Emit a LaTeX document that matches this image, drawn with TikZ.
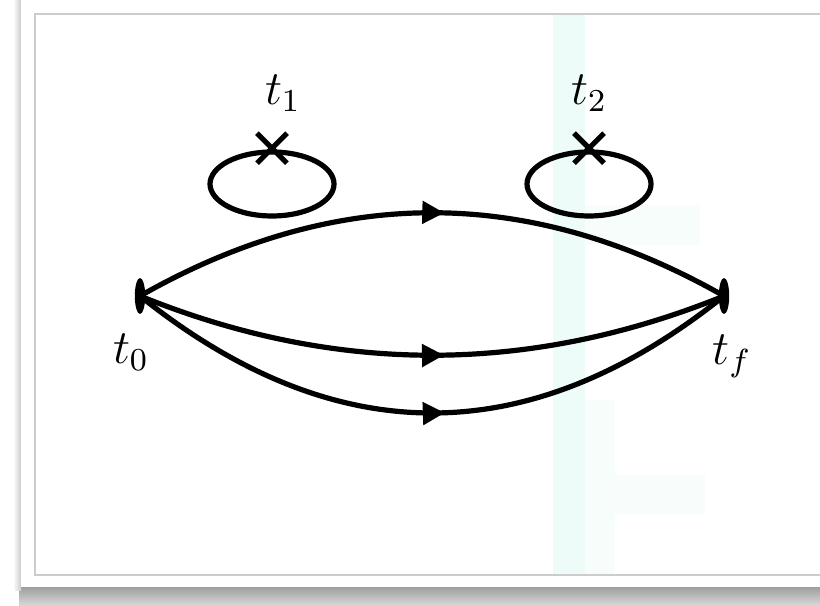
\documentclass[tikz,border=0pt]{standalone}
\usetikzlibrary{arrows.meta,shapes.geometric,shapes.misc,decorations.markings}

\definecolor{wmark}{RGB}{238,252,249}

\begin{document}
\begin{tikzpicture}[
  x=0.25pt, y=-0.25pt,
  path/.style={line width=1.3pt, postaction={decorate},
    decoration={markings, mark=at position 0.52 with {\arrow{Triangle[length=5.5pt,width=5.5pt]}}}},
  endpt/.style={ellipse, fill=black, inner sep=0pt, minimum width=2.6pt, minimum height=9pt},
  loopy/.style={ellipse, draw, line width=1.3pt, inner sep=0pt, minimum width=31pt, minimum height=16pt},
  xmark/.style={cross out, draw, line width=1.3pt, inner sep=0pt, minimum size=6.2pt},
  lbl/.style={font=\large},
]
\clip (0,0) rectangle (820,606);

% === PAGE + SHADOW ===
\fill[white] (0,0) rectangle (820,606);
\shade[top color=gray!75, bottom color=gray!30] (19,587) rectangle (820,606);
\shade[left color=white, right color=gray!40] (13,0) rectangle (21,590);
\fill[white] (21,0) rectangle (820,587);
\fill[wmark] (553,14) rectangle (585,575);
\fill[wmark, opacity=0.5] (585,205) rectangle (700,245);
\fill[wmark, opacity=0.5] (585,400) rectangle (615,575);
\fill[wmark, opacity=0.4] (615,475) rectangle (705,515);
\draw[gray!40, line width=0.4pt] (35,14) rectangle (830,575);

% === END POINTS ===
\node[endpt] (t0) at (140,296) {};
\node[endpt] (tf) at (724,296) {};
\node[lbl] (l0) at (131,352) {$t_0$};
\node[lbl] (lf) at (732,356) {$t_f$};

% === PATHS ===
\draw[path] (t0.center) .. controls (335,185) and (529,185) .. (tf.center);
\draw[path] (t0.center) .. controls (335,375) and (529,375) .. (tf.center);
\draw[path] (t0.center) .. controls (335,452) and (529,452) .. (tf.center);

% === LOOPS ===
\node[loopy] (e1) at (272,184) {};
\node[loopy] (e2) at (589,184) {};
\node[xmark] (x1) at ([yshift=0.3pt]e1.north) {};
\node[xmark] (x2) at ([yshift=0.3pt]e2.north) {};
\node[lbl] (l1) at (283,93) {$t_1$};
\node[lbl] (l2) at (589,93) {$t_2$};
\end{tikzpicture}
\end{document}
